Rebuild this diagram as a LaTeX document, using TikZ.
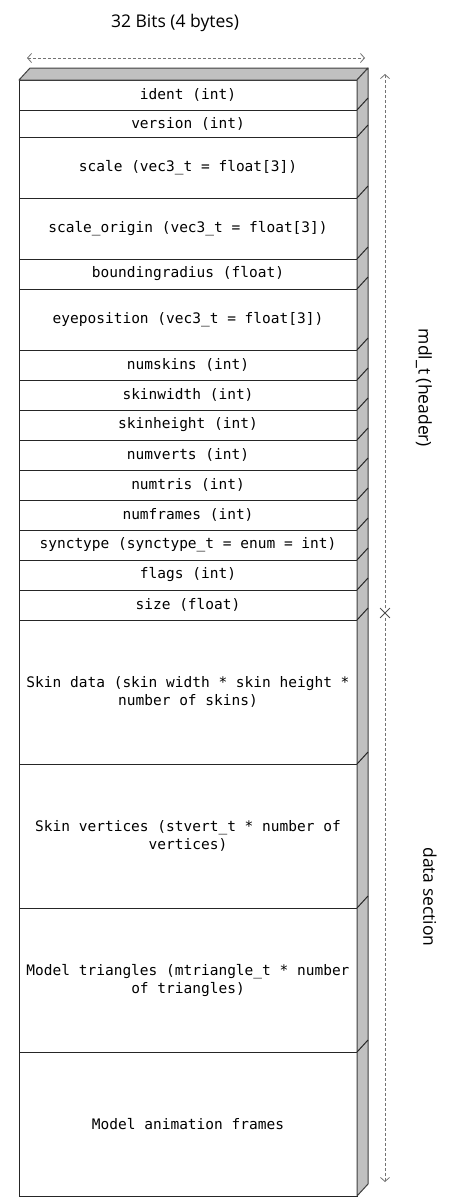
\documentclass[tikz,border=0pt]{standalone}
\usepackage{fontspec}
\setmainfont{Open Sans}
\newfontfamily\fieldfont{DejaVu Sans Mono}
\usetikzlibrary{calc,positioning,arrows.meta,shapes.misc}
\definecolor{sidegray}{HTML}{C0C0C0}
\tikzset{
>={Straight Barb[length=4pt,width=9pt]},
  field/.style={
    rectangle,
    draw=black!85, line width=1pt,
    fill=white,
    minimum width=338pt,
    inner sep=0pt, outer sep=0pt,
    align=center,
    font=\fieldfont\fontsize{14.5}{18}\selectfont},
  slab/.style={fill=sidegray, draw=black!75, line width=1pt, line join=round},
  dim/.style={draw=black!55, dashed, dash pattern=on 3pt off 2pt, line width=0.8pt},
  dimlabel/.style={font=\fontsize{17.5}{20}\selectfont},
}
\begin{document}
\begin{tikzpicture}
[
x=1pt, y=-1pt,
]
\useasboundingbox (0,0) rectangle (460,1200);

%Nodes
\node[field, minimum height=30pt, anchor=north west] (ident) at (19,80) {ident (int)};
\node[field, minimum height=27pt]    (version)   [below=0pt of ident]     {version (int)};
\node[field, minimum height=61pt]    (scale)     [below=0pt of version]   {scale (vec3\_t = float[3])};
\node[field, minimum height=61pt]    (origin)    [below=0pt of scale]     {scale\_origin (vec3\_t = float[3])};
\node[field, minimum height=30pt]    (radius)    [below=0pt of origin]    {boundingradius (float)};
\node[field, minimum height=61pt]    (eye)       [below=0pt of radius]    {eyeposition (vec3\_t = float[3])};
\node[field, minimum height=30pt]    (numskins)  [below=0pt of eye]       {numskins (int)};
\node[field, minimum height=30pt]    (skinw)     [below=0pt of numskins]  {skinwidth (int)};
\node[field, minimum height=30pt]    (skinh)     [below=0pt of skinw]     {skinheight (int)};
\node[field, minimum height=30pt]    (numverts)  [below=0pt of skinh]     {numverts (int)};
\node[field, minimum height=30pt]    (numtris)   [below=0pt of numverts]  {numtris (int)};
\node[field, minimum height=30pt]    (numframes) [below=0pt of numtris]   {numframes (int)};
\node[field, minimum height=30pt]    (synctype)  [below=0pt of numframes] {synctype (synctype\_t = enum = int)};
\node[field, minimum height=30pt]    (flags)     [below=0pt of synctype]  {flags (int)};
\node[field, minimum height=30pt]    (size)      [below=0pt of flags]     {size (float)};
\node[field, minimum height=144pt]   (skins)     [below=0pt of size]      {Skin data (skin width * skin height *\\number of skins)};
\node[field, minimum height=144pt]   (verts)     [below=0pt of skins]     {Skin vertices (stvert\_t * number of\\vertices)};
\node[field, minimum height=144pt]   (tris)      [below=0pt of verts]     {Model triangles (mtriangle\_t * number\\of triangles)};
\node[field, minimum height=144pt]   (frames)    [below=0pt of tris]      {Model animation frames};

%Depth
\filldraw[slab] (ident.north west) -- ($(ident.north west)+(11,-12)$) -- ($(ident.north east)+(11,-12)$) -- (ident.north east) -- cycle;
\filldraw[slab] (ident.north east) -- ($(ident.north east)+(11,-12)$) -- ($(frames.south east)+(11,-12)$) -- (frames.south east) -- cycle;
\foreach \n in {ident,version,scale,origin,radius,eye,numskins,skinw,skinh,numverts,numtris,numframes,synctype,flags,size,skins,verts,tris}
  \draw[black!85, line width=1pt] (\n.south east) -- ++(11,-12);

%Dimensions
\coordinate (wleft)  at (27,58);
\coordinate (wright) at (365,58);
\coordinate (htop)   at (385,74);
\coordinate (hbot)   at (385,1182);
\node[cross out, draw=black!70, line width=0.8pt, minimum size=9pt, inner sep=0pt] (split) at (385,613) {};
\node[dimlabel] (width)  at (175,23)  {32 Bits (4 bytes)};
\node[dimlabel, rotate=-90] (header) at (424,388) {mdl\_t (header)};
\node[dimlabel, rotate=-90] (data)   at (430,897) {data section};

%Lines
\draw[dim, <->] (wleft) -- (wright);
\draw[dim, ->]  (split) -- (htop);
\draw[dim, ->]  (split) -- (hbot);

\end{tikzpicture}
\end{document}
